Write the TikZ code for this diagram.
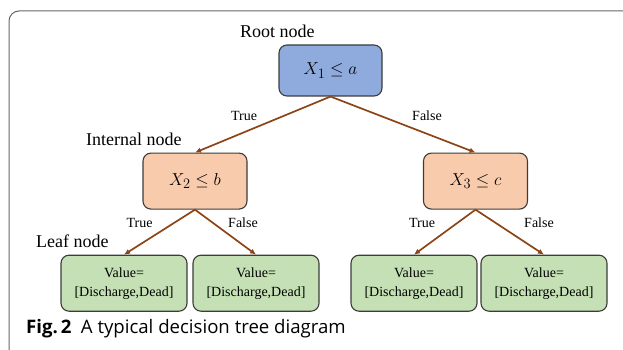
\documentclass[tikz,border=0pt]{standalone}
\usepackage{fontspec}
\setmainfont{Liberation Serif}
\newfontfamily\capfont{Open Sans}
\usepackage{xcolor}
\usetikzlibrary{arrows.meta,positioning}

\definecolor{rootblue}{RGB}{143,170,220}
\definecolor{innerpeach}{RGB}{248,203,173}
\definecolor{leafgreen}{RGB}{197,224,180}
\definecolor{edgebrown}{RGB}{140,68,22}
\definecolor{boxborder}{RGB}{60,60,60}

\begin{document}
\begin{tikzpicture}[
    x=1pt, y=-1pt,
    box/.style={rectangle, draw=boxborder, line width=1.1pt, rounded corners=8pt, align=center, inner sep=0pt},
    rootbox/.style={box, fill=rootblue, minimum width=103pt, minimum height=51pt, font=\fontsize{19}{21}\selectfont},
    innerbox/.style={box, fill=innerpeach, minimum width=104pt, minimum height=56pt, font=\fontsize{19}{21}\selectfont},
    leafbox/.style={box, fill=leafgreen, minimum width=126pt, minimum height=56pt, font=\fontsize{14}{19}\selectfont},
    kind/.style={anchor=base west, inner sep=0pt, font=\fontsize{18}{20}\selectfont},
    branch/.style={inner sep=0pt, font=\fontsize{14}{16}\selectfont},
    arrow/.style={-{Latex[length=6pt,width=5.5pt]}, draw=edgebrown, line width=1.7pt}
]
\clip (0,0) rectangle (623,350);
\useasboundingbox (0,0) rectangle (623,350);

% outer frame
\draw[draw=black!60, line width=1pt, rounded corners=10pt] (9,11) rectangle (660,370);

% tree
\node[rootbox] (root) at (330.5,70.5) {$X_1 \leq a$};
\node[innerbox, below=56pt of root, xshift=-135.5pt] (left) {$X_2 \leq b$};
\node[innerbox, below=56pt of root, xshift=145pt] (right) {$X_3 \leq c$};

\node[leafbox, below=45pt of left, xshift=-71pt] (leafa) {Value=\\{[}Discharge,Dead{]}};
\node[leafbox, below=45pt of left, xshift=61pt] (leafb) {Value=\\{[}Discharge,Dead{]}};
\node[leafbox, below=45pt of right, xshift=-61.5pt] (leafc) {Value=\\{[}Discharge,Dead{]}};
\node[leafbox, below=45pt of right, xshift=68.5pt] (leafd) {Value=\\{[}Discharge,Dead{]}};

\draw[arrow] (root.south) -- (left.north);
\draw[arrow] (root.south) -- (right.north);
\draw[arrow] (left.south) -- (leafa.north);
\draw[arrow] (left.south) -- (leafb.north);
\draw[arrow] (right.south) -- (leafc.north);
\draw[arrow] (right.south) -- (leafd.north);

% branch labels
\node[branch] (t1) at (244,116) {True};
\node[branch] (f1) at (427,116) {False};
\node[branch] (t2) at (139.5,223) {True};
\node[branch] (f2) at (243,223) {False};
\node[branch] (t3) at (422,223) {True};
\node[branch] (f3) at (539,223) {False};

% level names
\node[kind] (rootname) at (240,38) {Root node};
\node[kind] (innername) at (86,145) {Internal node};
\node[kind] (leafname) at (36,247) {Leaf node};

% caption
\node[anchor=base west, inner sep=0pt, font=\capfont\fontsize{18.6}{21}\selectfont] (caption) at (26,333) {\textbf{Fig.\,2}\enspace A typical decision tree diagram};

\end{tikzpicture}
\end{document}
